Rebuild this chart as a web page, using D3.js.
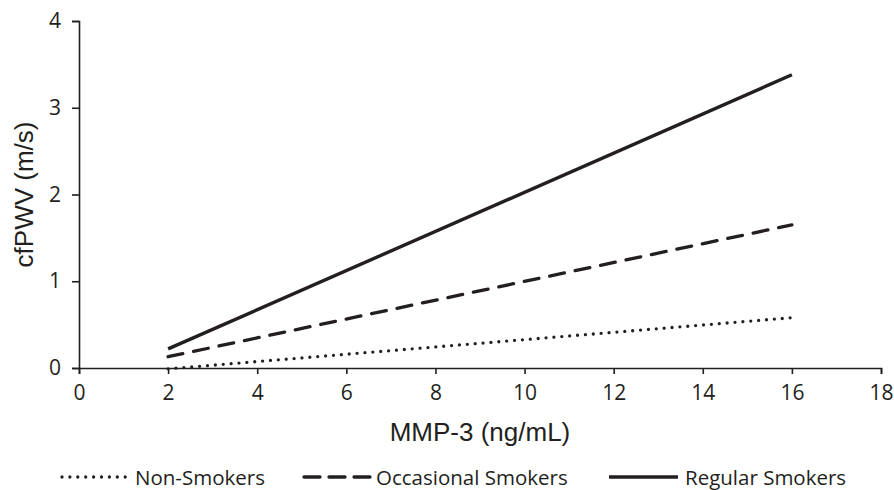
<!DOCTYPE html>
<html>
<head>
<meta charset="utf-8">
<script src="https://cdn.jsdelivr.net/npm/d3@7"></script>
<style>
  body { margin: 0; background: #fff; }
  svg { display: block; }
</style>
</head>
<body>
<svg id="chart"></svg>
<script>
// regression lines (MMP-3 at 2 and 16 ng/mL)
const mmp = [2, 16];
const nonSmokers = [-0.01, 0.58];
const occasionalSmokers = [0.13, 1.65];
const regularSmokers = [0.22, 3.38];

const seriesNames = ["Non-Smokers", "Occasional Smokers", "Regular Smokers"];
const xTicks = [0, 2, 4, 6, 8, 10, 12, 14, 16, 18];
const yTicks = [0, 1, 2, 3, 4];

const width = 894, height = 490;
const ink = "#231f20";

// plot area
const plotLeft = 79, plotRight = 881, plotTop = 21, plotBottom = 368;

const svg = d3.select("#chart")
    .attr("width", width)
    .attr("height", height);

const x = d3.scaleLinear().domain([0, 18]).range([plotLeft, plotRight]);
const y = d3.scaleLinear().domain([0, 4]).range([plotBottom, plotTop]);

// line styles per series
const styles = [
    {dash: "0,7.9", width: 3.3, cap: "round"},
    {dash: "15,11", width: 3.3, cap: "round"},
    {dash: null, width: 3.4, cap: "butt"}
];

const seriesData = [nonSmokers, occasionalSmokers, regularSmokers].map((vals, i) => ({
    name: seriesNames[i],
    style: styles[i],
    points: mmp.map((m, j) => ({x: m, y: vals[j]}))
}));

// x axis
const xAxis = svg.append("g")
    .attr("transform", "translate(0," + plotBottom + ")")
    .call(d3.axisBottom(x).tickValues(xTicks).tickFormat(d3.format("d")).tickSize(6).tickPadding(11));

// y axis
const yAxis = svg.append("g")
    .attr("transform", "translate(" + plotLeft + ",0)")
    .call(d3.axisLeft(y).tickValues(yTicks).tickFormat(d3.format("d")).tickSize(7).tickPadding(11));

[xAxis, yAxis].forEach(g => {
    g.select(".domain").attr("stroke", ink).attr("stroke-width", 1.6);
    g.selectAll(".tick line").attr("stroke", ink).attr("stroke-width", 1.6);
    g.selectAll(".tick text")
        .attr("fill", ink)
        .style("font-family", "'Open Sans', sans-serif")
        .style("font-size", "21px");
});

// axis titles
svg.append("text")
    .attr("x", (plotLeft + plotRight) / 2)
    .attr("y", 441)
    .attr("text-anchor", "middle")
    .attr("fill", ink)
    .style("font-family", "'Liberation Sans', Arial, sans-serif")
    .style("font-size", "26px")
    .text("MMP-3 (ng/mL)");

svg.append("text")
    .attr("transform", "translate(33," + (plotTop + plotBottom) / 2 + ") rotate(-90)")
    .attr("text-anchor", "middle")
    .attr("fill", ink)
    .style("font-family", "'Liberation Sans', Arial, sans-serif")
    .style("font-size", "26px")
    .text("cfPWV (m/s)");

// lines
const line = d3.line()
    .x(d => x(d.x))
    .y(d => y(d.y));

svg.append("g")
    .selectAll("path")
    .data(seriesData)
    .enter()
    .append("path")
    .attr("d", d => line(d.points))
    .attr("fill", "none")
    .attr("stroke", ink)
    .attr("stroke-width", d => d.style.width)
    .attr("stroke-linecap", d => d.style.cap)
    .attr("stroke-dasharray", d => d.style.dash);

// legend
const legendX = [62, 304, 609];
const legendY = 477;

const legend = svg.append("g")
    .selectAll("g")
    .data(seriesData)
    .enter()
    .append("g")
    .attr("transform", (d, i) => "translate(" + legendX[i] + "," + legendY + ")");

legend.append("line")
    .attr("x1", 0)
    .attr("x2", (d, i) => i === 0 ? 64 : 69)
    .attr("y1", 0)
    .attr("y2", 0)
    .attr("stroke", ink)
    .attr("stroke-width", d => d.style.width)
    .attr("stroke-linecap", d => d.style.cap)
    .attr("stroke-dasharray", (d, i) => i === 1 ? "16,9" : d.style.dash);

legend.append("text")
    .attr("x", (d, i) => [73, 72, 76][i])
    .attr("y", 8)
    .attr("fill", ink)
    .style("font-family", "'Open Sans', sans-serif")
    .style("font-size", "20.5px")
    .text(d => d.name);
</script>
</body>
</html>
